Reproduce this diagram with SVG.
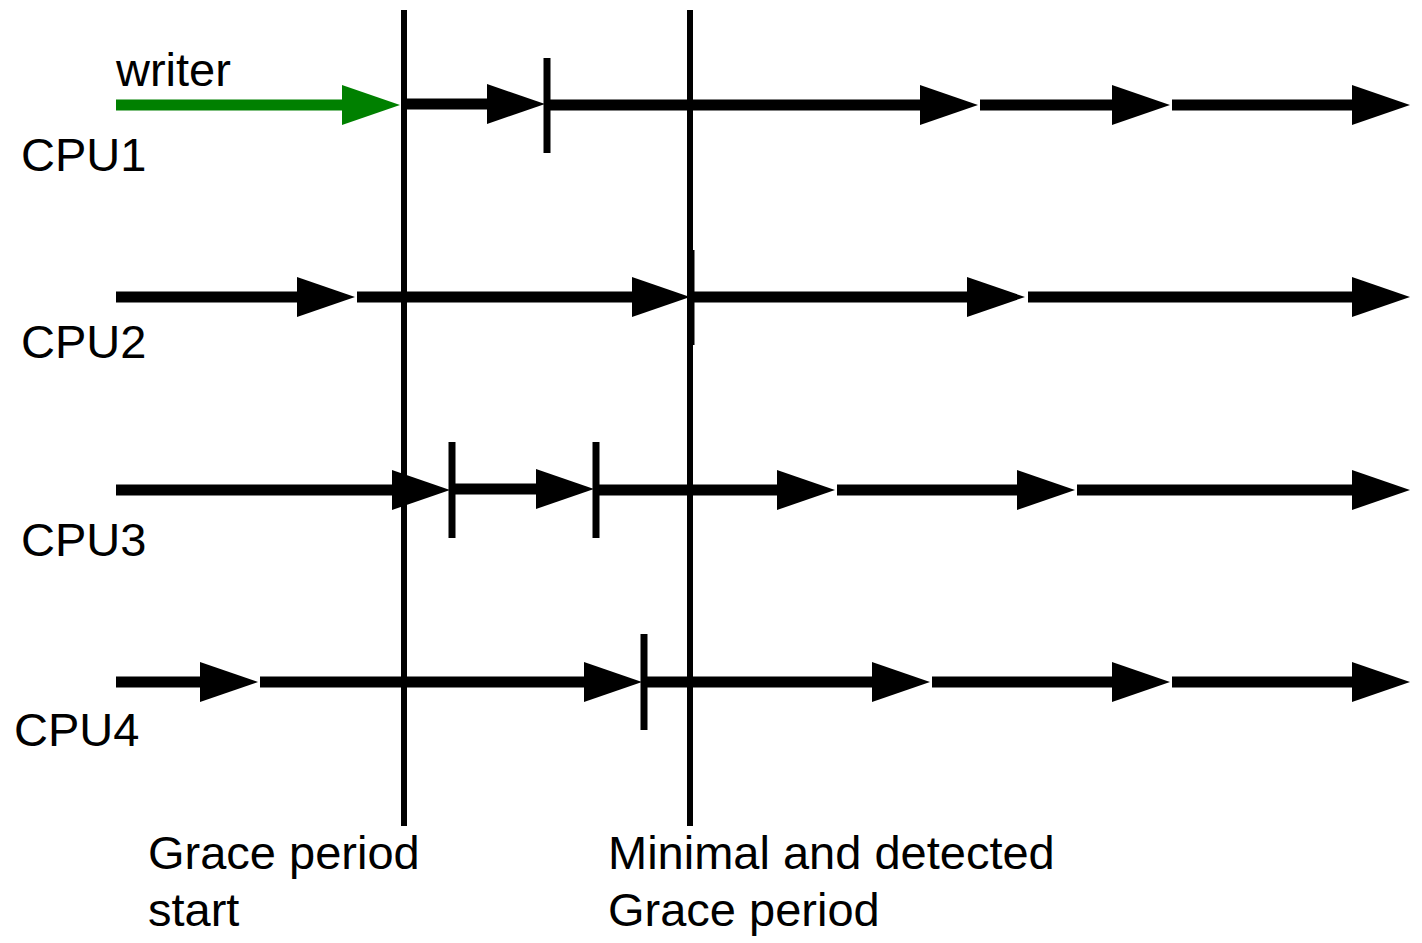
<svg xmlns="http://www.w3.org/2000/svg" width="1422" height="943" viewBox="0 0 1422 943">
<defs>
<marker id="ah" markerUnits="userSpaceOnUse" markerWidth="58" markerHeight="40" refX="18" refY="20" orient="auto" viewBox="0 0 58 40">
<path d="M0,0 L58,20 L0,40 z" fill="#000"/>
</marker>
<marker id="ahg" markerUnits="userSpaceOnUse" markerWidth="58" markerHeight="40" refX="18" refY="20" orient="auto" viewBox="0 0 58 40">
<path d="M0,0 L58,20 L0,40 z" fill="#008000"/>
</marker>
<style>
.t{font-family:"Liberation Sans",Arial,sans-serif;font-size:47px;fill:#000}
.seg{stroke:#000;stroke-width:11;fill:none;marker-end:url(#ah)}
.gseg{stroke:#008000;stroke-width:11;fill:none;marker-end:url(#ahg)}
.v{stroke:#000;stroke-width:6}
.tick{stroke:#000;stroke-width:7}
</style>
</defs>
<rect width="1422" height="943" fill="#fff"/>
<g id="labels">
<text class="t" x="116" y="86">writer</text>
<text id="cpu1" class="t" x="21" y="171">CPU1</text>
<text id="cpu2" class="t" x="21" y="358">CPU2</text>
<text id="cpu3" class="t" x="21" y="556">CPU3</text>
<text id="cpu4" class="t" x="14" y="746">CPU4</text>
<text class="t" x="148" y="869">Grace period</text>
<text class="t" x="148" y="926">start</text>
<text class="t" x="608" y="869">Minimal and detected</text>
<text class="t" x="608" y="926">Grace period</text>
</g>
<g id="connectors">
<path class="gseg" d="M116,105 H360"/>
<path class="seg" d="M404,104 H505"/>
<path class="seg" d="M547,105 H938"/>
<path class="seg" d="M980,105 H1130"/>
<path class="seg" d="M1172,105 H1370"/>

<path class="seg" d="M116,297 H315"/>
<path class="seg" d="M357,297 H650"/>
<path class="seg" d="M693,297 H985"/>
<path class="seg" d="M1028,297 H1370"/>

<path class="seg" d="M116,490 H410"/>
<path class="seg" d="M454,489 H554"/>
<path class="seg" d="M598,490 H795"/>
<path class="seg" d="M837,490 H1035"/>
<path class="seg" d="M1077,490 H1370"/>

<path class="seg" d="M116,682 H218"/>
<path class="seg" d="M260,682 H602"/>
<path class="seg" d="M646,682 H890"/>
<path class="seg" d="M932,682 H1130"/>
<path class="seg" d="M1172,682 H1370"/>
</g>
<g id="grace-start"><line class="v" x1="404" y1="10" x2="404" y2="826"/></g>
<g id="grace-end">
<line class="v" x1="690" y1="10" x2="690" y2="826"/>
<line class="v" x1="692" y1="250" x2="692" y2="345" style="stroke-width:5"/>
</g>
<g id="ticks">
<line class="tick" x1="547" y1="58" x2="547" y2="153"/>
<line class="tick" x1="452" y1="442" x2="452" y2="538"/>
<line class="tick" x1="596" y1="442" x2="596" y2="538"/>
<line class="tick" x1="644" y1="634" x2="644" y2="730"/>
</g>
</svg>
